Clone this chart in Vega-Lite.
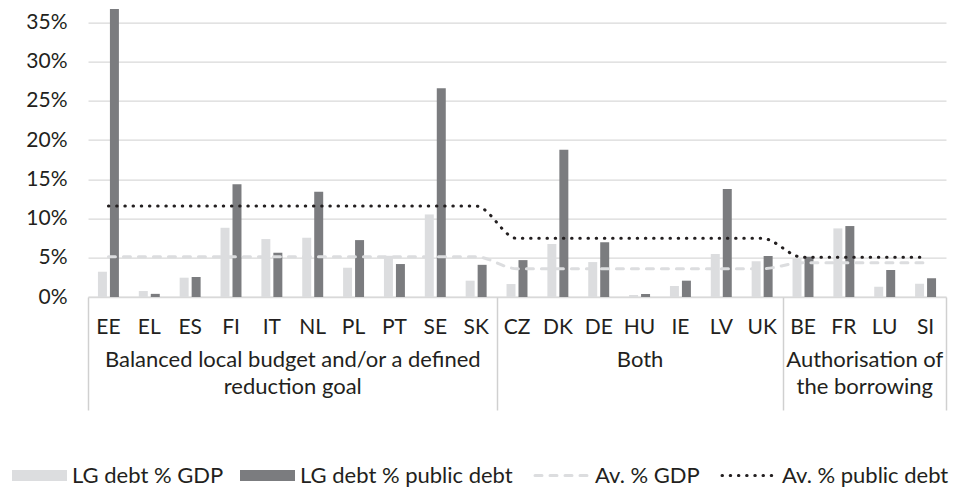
{
  "$schema": "https://vega.github.io/schema/vega-lite/v6.json",
  "width": 858,
  "height": 290.4,
  "autosize": {"type": "none"},
  "padding": {"left": 88, "top": 6.6, "right": 9, "bottom": 190},
  "config": {
    "font": "Lato",
    "view": {"stroke": null},
    "axis": {"labelColor": "#231f20", "labelFontSize": 21, "labelFont": "Lato", "labelLimit": 600},
    "legend": {"labelColor": "#231f20", "labelFont": "Lato", "labelLimit": 600}
  },
  "datasets": {
    "debt": [
      {"country": "EE", "gdp": 0.0322, "pub": 0.367, "avgGdp": 0.0513, "avgPub": 0.1158},
      {"country": "EL", "gdp": 0.0076, "pub": 0.004, "avgGdp": 0.0513, "avgPub": 0.1158},
      {"country": "ES", "gdp": 0.0246, "pub": 0.0255, "avgGdp": 0.0513, "avgPub": 0.1158},
      {"country": "FI", "gdp": 0.0882, "pub": 0.1438, "avgGdp": 0.0513, "avgPub": 0.1158},
      {"country": "IT", "gdp": 0.0738, "pub": 0.0564, "avgGdp": 0.0513, "avgPub": 0.1158},
      {"country": "NL", "gdp": 0.0755, "pub": 0.134, "avgGdp": 0.0513, "avgPub": 0.1158},
      {"country": "PL", "gdp": 0.0373, "pub": 0.0725, "avgGdp": 0.0513, "avgPub": 0.1158},
      {"country": "PT", "gdp": 0.0525, "pub": 0.042, "avgGdp": 0.0513, "avgPub": 0.1158},
      {"country": "SE", "gdp": 0.1052, "pub": 0.266, "avgGdp": 0.0513, "avgPub": 0.1158},
      {"country": "SK", "gdp": 0.0208, "pub": 0.041, "avgGdp": 0.0513, "avgPub": 0.1158},
      {"country": "CZ", "gdp": 0.0165, "pub": 0.047, "avgGdp": 0.036, "avgPub": 0.0747},
      {"country": "DK", "gdp": 0.0675, "pub": 0.1875, "avgGdp": 0.036, "avgPub": 0.0747},
      {"country": "DE", "gdp": 0.0445, "pub": 0.0696, "avgGdp": 0.036, "avgPub": 0.0747},
      {"country": "HU", "gdp": 0.0025, "pub": 0.0038, "avgGdp": 0.036, "avgPub": 0.0747},
      {"country": "IE", "gdp": 0.014, "pub": 0.0208, "avgGdp": 0.036, "avgPub": 0.0747},
      {"country": "LV", "gdp": 0.0547, "pub": 0.1375, "avgGdp": 0.036, "avgPub": 0.0747},
      {"country": "UK", "gdp": 0.0454, "pub": 0.0522, "avgGdp": 0.036, "avgPub": 0.0747},
      {"country": "BE", "gdp": 0.0492, "pub": 0.0513, "avgGdp": 0.0437, "avgPub": 0.0505},
      {"country": "FR", "gdp": 0.0874, "pub": 0.0904, "avgGdp": 0.0437, "avgPub": 0.0505},
      {"country": "LU", "gdp": 0.0131, "pub": 0.0344, "avgGdp": 0.0437, "avgPub": 0.0505},
      {"country": "SI", "gdp": 0.017, "pub": 0.0238, "avgGdp": 0.0437, "avgPub": 0.0505}
    ],
    "groups": [
      {"group": "Balanced local budget and/or a defined reduction goal", "start": 0, "end": 10},
      {"group": "Both", "start": 10, "end": 17},
      {"group": "Authorisation of the borrowing", "start": 17, "end": 21}
    ]
  },
  "layer": [
    {
      "data": {"name": "debt"},
      "encoding": {
        "x": {
          "field": "country",
          "type": "nominal",
          "sort": ["EE","EL","ES","FI","IT","NL","PL","PT","SE","SK","CZ","DK","DE","HU","IE","LV","UK","BE","FR","LU","SI"],
          "scale": {"paddingInner": 0, "paddingOuter": 0},
          "axis": {
            "title": null,
            "orient": "bottom",
            "labelAngle": 0,
            "ticks": false,
            "labelPadding": 19,
            "domainColor": "#d9d9d9",
            "domainWidth": 1.5,
            "grid": false
          }
        },
        "y": {
          "field": "value",
          "type": "quantitative",
          "scale": {"domain": [0, 0.37], "nice": false, "zero": true},
          "axis": {
            "title": null,
            "values": [0, 0.05, 0.1, 0.15, 0.2, 0.25, 0.3, 0.35],
            "format": ".0%",
            "grid": true,
            "gridColor": "#d9d9d9",
            "gridWidth": 1.2,
            "domain": false,
            "ticks": false,
            "labelPadding": 21
          }
        },
        "color": {
          "field": "key",
          "type": "nominal",
          "scale": {
            "domain": ["gdp", "pub", "avgGdp", "avgPub"],
            "range": ["#dcdddf", "#7b7c7f", "#dcdddf", "#231f20"]
          },
          "legend": {
            "title": null,
            "orient": "none",
            "direction": "horizontal",
            "legendX": -76,
            "legendY": 458,
            "labelFontSize": 22,
            "columnPadding": 16,
            "symbolSize": 3025,
            "labelExpr": "datum.value == 'gdp' ? 'LG debt % GDP' : datum.value == 'pub' ? 'LG debt % public debt' : datum.value == 'avgGdp' ? 'Av. % GDP' : 'Av. % public debt'",
            "encode": {
              "symbols": {
                "update": {
                  "x": {"value": 27.5},
                  "size": {"value": 3025},
                  "shape": {"signal": "(datum.value == 'gdp' || datum.value == 'pub') ? 'M-1,-0.2H1V0.2H-1Z' : 'stroke'"},
                  "fill": {"signal": "datum.value == 'gdp' ? '#dcdddf' : datum.value == 'pub' ? '#7b7c7f' : 'transparent'"},
                  "stroke": {"signal": "datum.value == 'avgGdp' ? '#dcdddf' : datum.value == 'avgPub' ? '#231f20' : 'transparent'"},
                  "strokeWidth": {"signal": "(datum.value == 'gdp' || datum.value == 'pub') ? 0 : 3"},
                  "strokeDash": {"signal": "datum.value == 'avgGdp' ? [7, 8] : datum.value == 'avgPub' ? [0.5, 7.7] : [1, 0]"},
                  "strokeCap": {"value": "round"},
                  "opacity": {"value": 1}
                }
              },
              "labels": {
                "update": {
                  "x": {"value": 60}
                }
              }
            }
          }
        }
      },
      "layer": [
        {
          "transform": [{"fold": ["gdp", "pub"]}],
          "mark": {"type": "bar", "opacity": 1},
          "encoding": {
            "xOffset": {
              "field": "key",
              "type": "nominal",
              "sort": ["gdp", "pub"],
              "scale": {"paddingInner": 0.25, "paddingOuter": 0.83}
            }
          }
        },
        {
          "transform": [{"fold": ["avgGdp", "avgPub"]}],
          "mark": {"type": "line", "strokeWidth": 3, "strokeCap": "round", "interpolate": "monotone"},
          "encoding": {
            "strokeDash": {
              "field": "key",
              "type": "nominal",
              "scale": {"domain": ["avgGdp", "avgPub"], "range": [[7, 8], [0.5, 7.7]]},
              "legend": null
            }
          }
        }
      ]
    },
    {
      "data": {"name": "groups"},
      "mark": {"type": "point", "opacity": 0},
      "encoding": {
        "x": {
          "field": "start",
          "type": "quantitative",
          "scale": {"domain": [0, 21], "nice": false, "zero": false},
          "axis": {
            "title": null,
            "orient": "bottom",
            "values": [0, 5, 10, 13.5, 17, 19, 21],
            "grid": false,
            "domain": false,
            "ticks": true,
            "tickSize": 113,
            "tickWidth": 1.5,
            "tickColor": {"condition": {"test": "datum.value == 0 || datum.value == 10 || datum.value == 17 || datum.value == 21", "value": "#d0d0d0"}, "value": "transparent"},
            "labelFontSize": 22,
            "labelPadding": -61,
            "labelLineHeight": 27,
            "labelBaseline": "top",
            "labelFlush": false,
            "labelOverlap": false,
            "labelExpr": "datum.value == 5 ? ['Balanced local budget and/or a defined', 'reduction goal'] : datum.value == 13.5 ? 'Both' : datum.value == 19 ? ['Authorisation of', 'the borrowing'] : ''"
          }
        }
      }
    }
  ],
  "resolve": {"scale": {"x": "independent"}}
}
